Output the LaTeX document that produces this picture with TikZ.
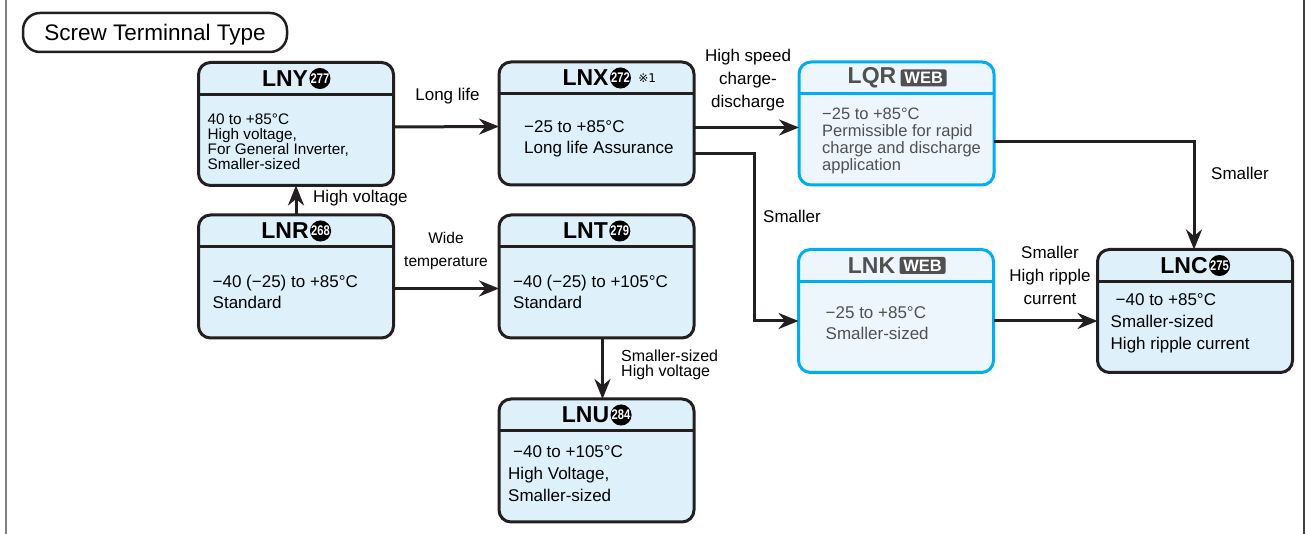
\documentclass[tikz,border=0pt]{standalone}
\usepackage{fontspec}
\setmainfont{Liberation Sans}
\newfontfamily\narrowfont[FakeStretch=0.8]{Liberation Sans}
\newfontfamily\markfont{DejaVu Sans}
\usepackage{tikz}
\usetikzlibrary{arrows.meta,positioning}
\definecolor{boxline}{RGB}{35,31,32}
\definecolor{boxfill}{RGB}{222,240,250}
\definecolor{webblue}{RGB}{0,174,239}
\definecolor{webfill}{RGB}{236,246,252}
\definecolor{webgray}{RGB}{80,80,80}

\begin{document}
\begin{tikzpicture}[x=1pt,y=1pt,
  prodbox/.style={draw=#1, line width=3pt, rounded corners=12pt, fill=boxfill,
    minimum width=195pt, minimum height=123pt, inner sep=0pt, outer sep=0pt,
    path picture={\draw[#1, line width=3pt]
      ([yshift=-32pt]path picture bounding box.north west) --
      ([yshift=-32pt]path picture bounding box.north east);}},
  prodbox/.default=boxline,
  webbox/.style={prodbox=webblue, fill=webfill},
  ttl/.style={inner sep=0pt, font=\fontsize{23}{23}\selectfont\bfseries},
  pno/.style={circle, fill=black, text=white, inner sep=0pt, minimum size=21pt,
    font=\narrowfont\fontsize{14}{14}\selectfont\bfseries},
  webtag/.style={fill=webgray, text=white, rounded corners=2pt, inner sep=0pt,
    minimum width=46pt, minimum height=17pt, font=\fontsize{16.5}{16.5}\selectfont\bfseries},
  body/.style={anchor=west, align=left, inner sep=0pt, font=\fontsize{17}{21}\selectfont},
  lbl/.style={inner sep=0pt, align=center, font=\fontsize{17}{23}\selectfont},
  flow/.style={draw=boxline, line width=3pt, -{Stealth[length=20pt,width=16pt]}}]
\useasboundingbox (0,0) rectangle (1306,534);

\draw[line width=1.5pt, gray] (6,0) -- (6,534);
\draw[line width=1.5pt, darkgray] (1304,0) -- (1304,534);

\node[draw=boxline, line width=2.5pt, rounded corners=17pt, minimum width=264pt,
  minimum height=39pt, inner sep=0pt, text depth=0pt,
  font=\fontsize{22.5}{22.5}\selectfont] (head) at (155,501.5) {Screw Terminnal Type};

% boxes
\node[prodbox] (lny) at (296,410) {};
\node[prodbox] (lnx) at (596.5,410.5) {};
\node[webbox] (lqr) at (896.5,410.5) {};
\node[prodbox] (lnr) at (296,257.5) {};
\node[prodbox] (lnt) at (596.5,257.5) {};
\node[prodbox] (lnu) at (596.5,73.5) {};
\node[webbox] (lnk) at (896,223) {};
\node[prodbox] (lnc) at (1195,223) {};

% titles
\node[ttl] (lnyt) at ([xshift=-11pt,yshift=-16pt]lny.north) {LNY};
\node[pno, right=1pt of lnyt] (lnyn) {277};
\node[ttl] (lnxt) at ([xshift=-11pt,yshift=-16pt]lnx.north) {LNX};
\node[pno, right=1pt of lnxt] (lnxn) {272};
\node[inner sep=0pt, right=7pt of lnxn, font=\markfont\fontsize{12}{12}\selectfont] (lnxm) {※1};
\node[ttl, text=webgray] (lqrt) at ([xshift=-24.5pt,yshift=-16pt]lqr.north) {LQR};
\node[webtag, right=4pt of lqrt] (lqrw) {WEB};
\node[ttl] (lnrt) at ([xshift=-11pt,yshift=-16pt]lnr.north) {LNR};
\node[pno, right=1pt of lnrt] (lnrn) {268};
\node[ttl] (lntt) at ([xshift=-11pt,yshift=-16pt]lnt.north) {LNT};
\node[pno, right=1pt of lntt] (lntn) {279};
\node[ttl] (lnut) at ([xshift=-11pt,yshift=-16pt]lnu.north) {LNU};
\node[pno, right=1pt of lnut] (lnun) {284};
\node[ttl, text=webgray] (lnkt) at ([xshift=-24.5pt,yshift=-16pt]lnk.north) {LNK};
\node[webtag, right=4pt of lnkt] (lnkw) {WEB};
\node[ttl] (lnct) at ([xshift=-11pt,yshift=-16pt]lnc.north) {LNC};
\node[pno, right=1pt of lnct] (lncn) {275};

% body texts
\node[body, font=\fontsize{15.3}{15}\selectfont] (lnyx) at ([xshift=9pt,yshift=-17.5pt]lny.west)
  {40 to +85°C\\High voltage,\\For General Inverter,\\Smaller-sized};
\node[body] (lnxx) at ([xshift=25pt,yshift=-15pt]lnx.west) {−25 to +85°C\\Long life Assurance};
\node[body, text=webgray, font=\fontsize{16.5}{17}\selectfont] (lqrx) at ([xshift=23pt,yshift=-17pt]lqr.west)
  {−25 to +85°C\\Permissible for rapid\\charge and discharge\\application};
\node[body] (lnrx) at ([xshift=14pt,yshift=-15pt]lnr.west) {−40 (−25) to +85°C\\Standard};
\node[body] (lntx) at ([xshift=14pt,yshift=-15pt]lnt.west) {−40 (−25) to +105°C\\Standard};
\node[body, font=\fontsize{17}{22}\selectfont] (lnux) at ([xshift=9pt,yshift=-13.5pt]lnu.west)
  {\hspace*{5pt}−40 to +105°C\\High Voltage,\\Smaller-sized};
\node[body, text=webgray] (lnkx) at ([xshift=27pt,yshift=-12pt]lnk.west) {−25 to +85°C\\Smaller-sized};
\node[body, font=\fontsize{17}{22}\selectfont] (lncx) at ([xshift=13pt,yshift=-12pt]lnc.west)
  {\hspace*{5pt}−40 to +85°C\\Smaller-sized\\High ripple current};

% connectors
\draw[flow] (lnr.north) -- (lny.south);
\draw[flow] ([yshift=-3pt]lny.east) -- ([yshift=-3pt]lnx.west);
\draw[flow] ([yshift=-4pt]lnx.east) -- ([yshift=-4pt]lqr.west);
\draw[flow] ([yshift=-30pt]lnx.east) -- ++(60,0) |- ([yshift=-10pt]lnk.west);
\draw[flow] ([yshift=-18pt]lqr.east) -| ([xshift=-1pt]lnc.north);
\draw[flow] ([yshift=-12pt]lnr.east) -- ([yshift=-12pt]lnt.west);
\draw[flow] ([xshift=6pt]lnt.south) -- ([xshift=6pt]lnu.north);
\draw[flow] ([yshift=-10pt]lnk.east) -- ([yshift=-10pt]lnc.west);

% labels
\node[lbl] (lbllong) at (447.5,438) {Long life};
\node[lbl, anchor=west] (lblhv) at (313,336) {High voltage};
\node[lbl, font=\fontsize{15.5}{23}\selectfont] (lblwide) at (446,283) {Wide\\temperature};
\node[lbl, anchor=west, align=left, font=\fontsize{16}{14.5}\selectfont] (lblsh) at (621,169)
  {Smaller-sized\\High voltage};
\node[lbl] (lblhs) at (748,454) {High speed\\charge-\\discharge};
\node[lbl, anchor=west] (lblsma) at (763,318) {Smaller};
\node[lbl, anchor=west] (lblsmb) at (1211,361) {Smaller};
\node[lbl] (lblrip) at (1050,259) {Smaller\\High ripple\\current};
\end{tikzpicture}
\end{document}
